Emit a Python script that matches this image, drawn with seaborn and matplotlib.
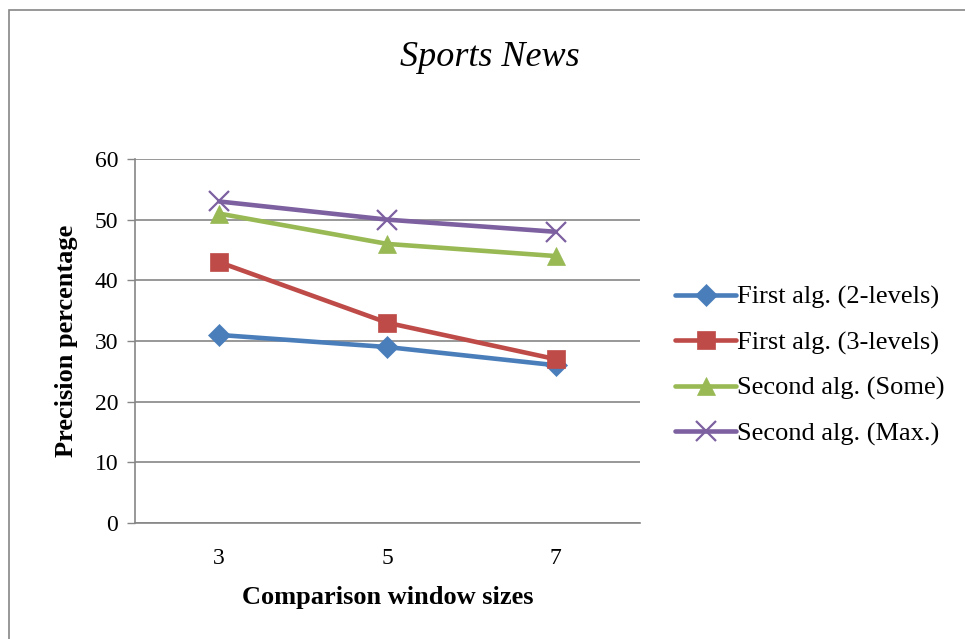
import matplotlib
matplotlib.use("Agg")
import matplotlib.pyplot as plt
from matplotlib.patches import Rectangle
import seaborn as sns
import pandas as pd

window_sizes = ["3", "5", "7"]
first_2_levels = [31, 29, 26]
first_3_levels = [43, 33, 27]
second_some = [51, 46, 44]
second_max = [53, 50, 48]
series_names = ["First alg. (2-levels)", "First alg. (3-levels)",
                "Second alg. (Some)", "Second alg. (Max.)"]

rows = []
for name, vals in zip(series_names, [first_2_levels, first_3_levels, second_some, second_max]):
    for i, (w, v) in enumerate(zip(window_sizes, vals)):
        rows.append({"pos": i, "window": w, "value": v, "series": name})
df = pd.DataFrame(rows)

sns.set_theme(style="white")
plt.rcParams["font.family"] = ["Liberation Serif", "DejaVu Serif"]
plt.rcParams["text.color"] = "black"
plt.rcParams["axes.labelcolor"] = "black"
plt.rcParams["xtick.color"] = "black"
plt.rcParams["ytick.color"] = "black"

palette = {series_names[0]: "#4A7EBB", series_names[1]: "#BE4B48",
           series_names[2]: "#98B954", series_names[3]: "#7D60A0"}
markers = {series_names[0]: "D", series_names[1]: "s",
           series_names[2]: "^", series_names[3]: "x"}
sizes = {series_names[0]: 11, series_names[1]: 13,
         series_names[2]: 13, series_names[3]: 14}

fig = plt.figure(figsize=(9.65, 6.39), dpi=100)
ax = fig.add_axes([135 / 965, 1 - 523 / 639, (640 - 135) / 965, (523 - 159) / 639])

for name in series_names:
    sub = df[df["series"] == name]
    sns.lineplot(data=sub, x="pos", y="value", ax=ax, color=palette[name],
                 marker=markers[name], markersize=sizes[name], linewidth=3.3,
                 markeredgewidth=1.6 if markers[name] == "x" else 0.5,
                 markeredgecolor=palette[name], label=name)

ax.set_xlim(-0.5, 2.5)
ax.set_ylim(0, 60)
ax.set_yticks(range(0, 61, 10))
ax.set_xticks(range(len(window_sizes)))
ax.set_xticklabels(window_sizes)
ax.set_xticks([-0.5, 0.5, 1.5, 2.5], minor=True)
ax.tick_params(axis="x", which="major", length=0, pad=18, labelsize=17)
ax.tick_params(axis="x", which="minor", length=6, width=1, color="#868686", direction="out")
ax.tick_params(axis="y", which="major", length=6, width=1, color="#868686",
               direction="out", labelsize=17, pad=6, left=True, labelcolor="black")
ax.tick_params(axis="x", labelcolor="black")
ax.yaxis.grid(True, color="#868686", linewidth=1.2)
ax.set_axisbelow(True)
for side in ["top", "right"]:
    ax.spines[side].set_visible(False)
for side in ["left", "bottom"]:
    ax.spines[side].set_color("#868686")
    ax.spines[side].set_linewidth(1.2)

ax.set_xlabel("Comparison window sizes", fontsize=19, fontweight="bold", labelpad=12)
ax.set_ylabel("Precision percentage", fontsize=19, fontweight="bold", labelpad=12)

fig.text(490 / 965, 1 - 57 / 639, "Sports News", fontsize=26, style="italic",
         ha="center", va="center")

leg = ax.legend(loc="center left", bbox_to_anchor=(1.07, 0.432), frameon=False,
                fontsize=19, handlelength=2.3, handletextpad=0.05, labelspacing=0.82,
                borderpad=0, borderaxespad=0)

fig.patches.append(Rectangle((9 / 965, -0.1), 1.2, 1 - 10 / 639 + 0.1,
                             transform=fig.transFigure, fill=False,
                             edgecolor="#868686", linewidth=1.2))

fig.savefig("out.png", dpi=100)
